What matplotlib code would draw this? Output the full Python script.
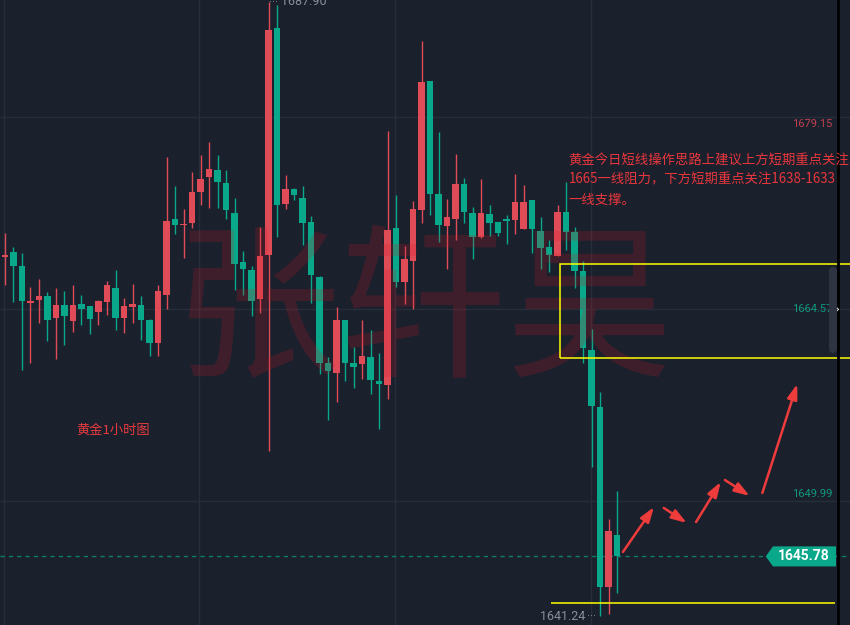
import numpy as np
import matplotlib
matplotlib.use("Agg")
import matplotlib.pyplot as plt
from matplotlib.patches import Rectangle, Polygon, FancyBboxPatch

# gold 1h candles
opens = [1668.5, 1668.9, 1667.8, 1665.0, 1665.25, 1665.55, 1663.88, 1664.87, 1663.66, 1664.95,
         1664.80, 1664.34, 1665.1, 1666.16, 1663.88, 1664.72, 1664.87, 1663.73, 1661.99, 1665.63,
         1671.40, 1670.95, 1671.10, 1673.45, 1674.59, 1675.12, 1674.13, 1671.86, 1668.14, 1667.53,
         1665.33, 1668.67, 1685.90, 1672.54, 1673.68, 1673.0, 1671.17, 1667.0, 1660.47, 1659.71,
         1663.73, 1660.5, 1660.39, 1660.92, 1659.10, 1658.80, 1670.72, 1666.62, 1668.21, 1672.08,
         1681.88, 1673.30, 1670.87, 1671.40, 1674.06, 1671.86, 1670.03, 1671.78, 1671.17, 1671.40,
         1671.33, 1670.64, 1672.84, 1670.49, 1669.27, 1668.59, 1671.93, 1670.41, 1667.45, 1661.45,
         1657.13, 1643.46, 1647.41]
highs = [1670.3, 1669.3, 1668.8, 1666.2, 1666.85, 1665.86, 1666.16, 1665.93, 1666.39, 1665.63,
         1664.80, 1665.25, 1666.69, 1667.53, 1665.40, 1666.47, 1665.55, 1663.81, 1666.39, 1676.11,
         1673.91, 1672.16, 1674.97, 1676.26, 1677.25, 1676.26, 1675.12, 1673.0, 1668.97, 1667.8,
         1670.79, 1687.90, 1687.65, 1674.74, 1673.76, 1673.91, 1671.63, 1667.07, 1660.92, 1664.72,
         1663.73, 1661.68, 1663.73, 1662.97, 1661.23, 1678.08, 1673.22, 1669.35, 1672.77, 1684.92,
         1681.88, 1678.01, 1672.92, 1676.34, 1674.51, 1672.31, 1674.44, 1672.46, 1671.17, 1671.71,
         1674.82, 1673.98, 1672.84, 1671.55, 1669.81, 1672.46, 1674.21, 1670.79, 1668.21, 1663.05,
         1658.27, 1648.62, 1650.75]
lows = [1666.4, 1665.1, 1659.9, 1660.5, 1663.5, 1662.14, 1660.77, 1661.83, 1662.82, 1663.35,
        1662.67, 1663.35, 1664.11, 1662.97, 1662.75, 1663.5, 1662.21, 1661.0, 1661.0, 1664.57,
        1670.26, 1668.44, 1670.72, 1672.46, 1672.24, 1672.24, 1671.40, 1666.01, 1665.63, 1664.04,
        1664.26, 1653.78, 1670.03, 1672.16, 1672.84, 1669.43, 1665.0, 1659.63, 1656.14, 1657.51,
        1659.10, 1658.57, 1659.25, 1658.11, 1655.46, 1657.73, 1666.2, 1664.95, 1664.57, 1671.10,
        1671.71, 1669.65, 1667.60, 1669.81, 1671.10, 1668.36, 1669.96, 1670.11, 1670.11, 1669.50,
        1670.26, 1670.64, 1668.82, 1667.60, 1667.38, 1668.59, 1669.05, 1666.16, 1660.5, 1652.57,
        1641.24, 1641.41, 1643.0]
closes = [1668.7, 1667.8, 1665.2, 1665.2, 1665.55, 1663.73, 1664.87, 1664.04, 1664.87, 1664.57,
          1663.81, 1665.2, 1666.39, 1663.88, 1664.80, 1664.95, 1663.73, 1661.99, 1665.93, 1671.25,
          1670.95, 1671.02, 1673.45, 1674.44, 1675.20, 1674.21, 1672.08, 1667.98, 1667.60, 1665.2,
          1668.59, 1685.75, 1672.46, 1673.68, 1673.22, 1671.10, 1667.15, 1660.5, 1659.86, 1663.73,
          1660.5, 1660.16, 1661.0, 1659.18, 1658.87, 1670.57, 1666.62, 1668.36, 1672.16, 1681.80,
          1673.30, 1670.95, 1671.55, 1674.06, 1671.93, 1670.03, 1671.86, 1671.10, 1670.34, 1671.25,
          1672.69, 1672.69, 1670.64, 1669.20, 1668.67, 1671.93, 1670.41, 1667.45, 1661.61, 1657.20,
          1643.46, 1647.71, 1645.78]

axis_ticks = [1679.15, 1664.57, 1649.99]
day_lines = [-0.1, 22.8, 45.9, 68.9]

# drawn zones / forecast arrows (bar index, price)
zone = (65.3, 1660.85, 1667.98)
support = (64.2, 97.6, 1642.24)
arrows = [((72.7, 1646.12), (76.35, 1649.53)),
          ((77.5, 1649.46), (80.2, 1648.32)),
          ((81.3, 1648.39), (84.2, 1651.43)),
          ((84.7, 1651.58), (87.6, 1650.37)),
          ((89.1, 1650.60), (93.2, 1658.87))]

title_txt = "黄金1小时图"
note_lines = ["黄金今日短线操作思路上建议上方短期重点关注",
              "1665一线阻力，下方短期重点关注1638-1633",
              "一线支撑。"]
watermark = "张轩昊"

BG = "#1b202d"
GRID = "#272e3b"
UP = "#e04b58"
DOWN = "#0aa88a"
CJK = ["Noto Sans CJK SC", "DejaVu Sans"]
NUM = ["Roboto", "DejaVu Sans"]

o = np.array(opens); h = np.array(highs); l = np.array(lows); c = np.array(closes)
x = np.arange(len(o))
cols = np.where(c >= o, UP, DOWN)

fig = plt.figure(figsize=(8.5, 6.25), dpi=100, facecolor=BG)
ax = fig.add_axes([0, 0, 1, 1])
ax.set_facecolor(BG)
ax.set_xlim(-0.588, 99.41)
ax.set_ylim(1640.57, 1688.03)
ax.axis("off")

for p in axis_ticks:
    ax.axhline(p, color=GRID, lw=1, zorder=0)
for d in day_lines:
    ax.axvline(d, color=GRID, lw=1, zorder=0)

# candles
ax.vlines(x, l, h, colors=cols, lw=1, zorder=2)
body = np.maximum(np.abs(c - o), 0.1)
ax.bar(x, body, bottom=np.minimum(o, c), width=0.72, color=cols, zorder=3, linewidth=0)

# watermark over the candles
ax.text(49.2, 1664.0, watermark, family=CJK, fontsize=120, color=(0.8, 0.1, 0.14),
        alpha=0.2, ha="center", va="center", zorder=4)

# last price dashed line
last = c[-1]
ax.axhline(last, color="#0d7f6a", lw=1, ls=(0, (3, 3)), zorder=1)

# yellow zone + support line
ax.add_patch(Rectangle((zone[0], zone[1]), 40, zone[2] - zone[1], fill=False,
                       edgecolor="#ffff00", lw=1.1, zorder=5))
ax.hlines(support[2], support[0], support[1], color="#ffff00", lw=1.1, zorder=5)

# arrows
for (s, e) in arrows:
    ax.annotate("", xy=e, xytext=s,
                arrowprops=dict(arrowstyle="-|>,head_length=0.9,head_width=0.3",
                                color="#ee3b3b", lw=1.8, shrinkA=0, shrinkB=0), zorder=6)

# scrollbar + border
fig.patches.append(FancyBboxPatch((829 / 850, 272 / 625), 8 / 850, 86 / 625,
                                  boxstyle="round,pad=0,rounding_size=0.005",
                                  mutation_aspect=850 / 625, transform=fig.transFigure,
                                  facecolor="#2e3442", edgecolor="none", zorder=7))
ax.axvline(98.0, color="black", lw=2, zorder=8)

# texts
ax.text(8.35, 1655.38, title_txt, family=CJK, fontsize=9.5, color="#e83a3e",
        ha="left", va="center", zorder=9)
for k, line in enumerate(note_lines):
    ax.text(66.3, 1675.88 - k * 1.5, line, family=CJK, fontsize=9.6, color="#e8363c",
            ha="left", va="center", zorder=9)

# right side price labels
ax.annotate("1679.15", (97.3, axis_ticks[0]), xytext=(0, -5), textcoords="offset points",
            ha="right", va="center", family=NUM, fontsize=8, color="#c2404e", zorder=6)
ax.annotate("1664.57", (97.3, axis_ticks[1]), xytext=(0, 0), textcoords="offset points",
            ha="right", va="center", family=NUM, fontsize=8, color="#0e9a80", zorder=6)
ax.annotate("1649.99", (97.3, axis_ticks[2]), xytext=(0, 5), textcoords="offset points",
            ha="right", va="center", family=NUM, fontsize=8, color="#0e9a80", zorder=6)
ax.text(97.95, axis_ticks[1], "›", color="white", fontsize=9, ha="center", va="center", zorder=9)

# high / low markers
hi = int(np.argmax(h)); lo = int(np.argmin(l))
ax.text(hi + 0.1, h[hi], "···", color="#8a8f99", fontsize=7, ha="left", va="center", zorder=6)
ax.text(hi + 1.5, h[hi], "%.2f" % h[hi], family=NUM, fontsize=9, color="#8a8f99",
        ha="left", va="center", zorder=6)
ax.text(lo - 1.7, l[lo], "%.2f" % l[lo], family=NUM, fontsize=9, color="#8a8f99",
        ha="right", va="center", zorder=6)
ax.text(lo - 1.5, l[lo], "···", color="#8a8f99", fontsize=7, ha="left", va="center", zorder=6)

# last price tag
tag = Polygon([(89.5, last), (90.35, last + 0.76), (97.76, last + 0.76),
               (97.76, last - 0.76), (90.35, last - 0.76)], closed=True,
              facecolor="#0aa88a", edgecolor="none", zorder=7)
ax.add_patch(tag)
ax.text(94.0, last, "%.2f" % last, family=NUM, fontsize=10, fontweight="bold",
        color="white", ha="center", va="center", zorder=8)

fig.savefig("out.png", dpi=100, facecolor=BG)
